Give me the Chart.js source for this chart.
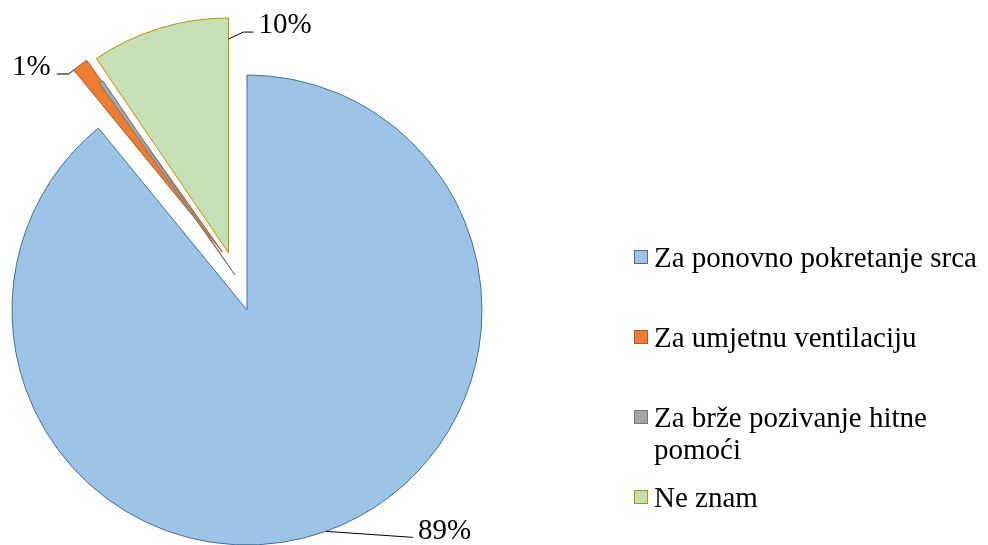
<!DOCTYPE html>
<html>
<head>
<meta charset="utf-8">
<script src="https://cdn.jsdelivr.net/npm/chart.js@4.4.1/dist/chart.umd.min.js"></script>
<style>
    html, body { margin: 0; padding: 0; background: #fff; }
    #wrap { position: relative; width: 988px; height: 545px; overflow: hidden; }
    #pie { position: absolute; left: 0; top: 0; }
    #legend { position: absolute; left: 632px; top: 241px; font-family: "Liberation Serif", "Times New Roman", "DejaVu Serif", serif; font-size: 29px; color: #000; }
    .item { position: relative; height: 80px; padding-left: 22px; line-height: 32px; width: 340px; }
    .box { position: absolute; left: 2px; top: 9px; width: 12px; height: 12px; border: 1px solid; }
</style>
</head>
<body>
<div id="wrap">
    <canvas id="pie" width="988" height="545"></canvas>
    <div id="legend"></div>
</div>
<script>
const categories = ['Za ponovno pokretanje srca', 'Za umjetnu ventilaciju', 'Za brže pozivanje hitne pomoći', 'Ne znam'];
const shares = [89.1, 1.1, 0.3, 9.5];
const pctLabels = ['89%', '1%', '', '10%'];

const fills = ['#9DC3E6', '#ED7D31', '#A5A5A5', '#C5E0B4'];
const edges = ['#41719C', '#AE5A21', '#787878', '#BF9000'];

// pulled-out slices: distance in px and direction (deg, clockwise from 12 o'clock)
const explodeDist = [0, 63, 37, 60];
const explodeDir = [0, 337, 341, 342];

// where each leader line starts on its slice and how it bends to the text
const leaders = [
    { frac: 0.5, rf: 1, elbow: [87, 6], run: 0, gap: 5, align: 'left', base: 2 },
    { frac: 0, rf: 1, elbow: [-5, 4], run: -12, gap: 6, align: 'right', base: 1 },
    null,
    { frac: 1, rf: 0.91, elbow: [15, -7], run: 10, gap: 5, align: 'left', base: 1 }
];

function shiftOf(i) {
    const a = explodeDir[i] * Math.PI / 180;
    return [Math.sin(a) * explodeDist[i], -Math.cos(a) * explodeDist[i]];
}

const explodePlugin = {
    id: 'explode',
    afterUpdate(chart) {
        chart.getDatasetMeta(0).data.forEach((el, i) => {
            if (el._exploded) return;
            const orig = el.draw;
            el.draw = function (ctx) {
                const [dx, dy] = shiftOf(i);
                ctx.save();
                ctx.translate(dx, dy);
                orig.call(this, ctx);
                ctx.restore();
            };
            el._exploded = true;
        });
    }
};

const labelPlugin = {
    id: 'pctLabels',
    afterDatasetsDraw(chart) {
        const ctx = chart.ctx;
        const meta = chart.getDatasetMeta(0);
        ctx.save();
        ctx.strokeStyle = '#000';
        ctx.lineWidth = 1;
        ctx.fillStyle = '#000';
        ctx.font = '29px "Liberation Serif", "Times New Roman", serif';
        ctx.textBaseline = 'alphabetic';
        meta.data.forEach((el, i) => {
            const l = leaders[i];
            if (!l || !pctLabels[i]) return;
            const p = el.getProps(['x', 'y', 'startAngle', 'outerRadius', 'circumference'], true);
            const [dx, dy] = shiftOf(i);
            const a = p.startAngle + l.frac * p.circumference;
            const r = p.outerRadius * l.rf;
            const ax = p.x + dx + Math.cos(a) * r;
            const ay = p.y + dy + Math.sin(a) * r;
            const ex = ax + l.elbow[0];
            const ey = ay + l.elbow[1];
            const tx = ex + l.run;
            ctx.beginPath();
            ctx.moveTo(ax, ay);
            ctx.lineTo(ex, ey);
            ctx.lineTo(tx, ey);
            ctx.stroke();
            ctx.textAlign = l.align;
            ctx.fillText(pctLabels[i], l.align === 'left' ? tx + l.gap : tx - l.gap, ey + l.base);
        });
        ctx.restore();
    }
};

new Chart(document.getElementById('pie'), {
    type: 'pie',
    data: {
        labels: categories,
        datasets: [{
            data: shares,
            backgroundColor: fills,
            borderColor: edges,
            borderWidth: 1,
            clip: false
        }]
    },
    options: {
        responsive: false,
        animation: false,
        devicePixelRatio: 1,
        radius: 235,
        layout: { padding: { left: 0, right: 494, top: 75, bottom: 0 } },
        plugins: {
            legend: { display: false },
            tooltip: { enabled: false }
        }
    },
    plugins: [explodePlugin, labelPlugin]
});

const legendEl = document.getElementById('legend');
const legendText = ['Za ponovno pokretanje srca', 'Za umjetnu ventilaciju', 'Za brže pozivanje hitne<br>pomoći', 'Ne znam'];
legendText.forEach((t, i) => {
    const row = document.createElement('div');
    row.className = 'item';
    row.innerHTML = '<span class="box" style="background:' + fills[i] + ';border-color:' + edges[i] + '"></span>' + t;
    legendEl.appendChild(row);
});
</script>
</body>
</html>
